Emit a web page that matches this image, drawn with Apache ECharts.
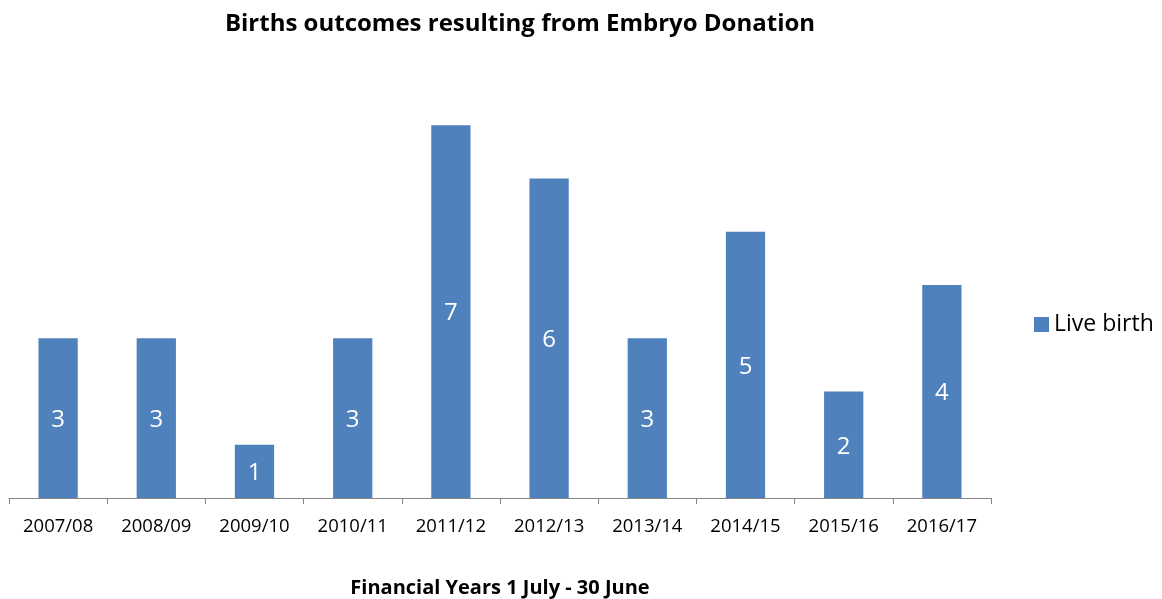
<!DOCTYPE html>
<html><head><meta charset="utf-8">
<script src="https://cdn.jsdelivr.net/npm/echarts@6/dist/echarts.min.js"></script>
<style>html,body{margin:0;padding:0;background:#fff}#c{width:1162px;height:599px}</style>
</head><body><div id="c"></div>
<script>
const categories = ['2007/08','2008/09','2009/10','2010/11','2011/12','2012/13','2013/14','2014/15','2015/16','2016/17'];
const liveBirth = [3,3,1,3,7,6,3,5,2,4];
const seriesName = 'Live birth';
const titleText = 'Births outcomes resulting from Embryo Donation';
const xAxisTitle = 'Financial Years 1 July - 30 June';
const FONT = 'Open Sans';
const chart = echarts.init(document.getElementById('c'));
chart.setOption({
  animation:false,
  textStyle:{fontFamily:FONT},
  title:{text:titleText,left:515,top:7,textAlign:'center',textStyle:{fontFamily:FONT,fontSize:24,fontWeight:'bold',color:'#000'}},
  legend:{left:1029,top:308,orient:'vertical',itemWidth:15,itemHeight:15,icon:'rect',itemGap:8,
    textStyle:{fontFamily:FONT,fontSize:23,color:'#000'},data:[seriesName]},
  grid:{left:9,right:171,top:72,bottom:101,containLabel:false,outerBoundsMode:'none'},
  xAxis:{type:'category',data:categories,
    axisLine:{lineStyle:{color:'#868686',width:1}},
    axisTick:{show:true,length:6,lineStyle:{color:'#868686'}},
    axisLabel:{fontFamily:FONT,fontSize:18.5,color:'#000',margin:19},
    name:xAxisTitle,nameLocation:'middle',nameGap:80,
    nameTextStyle:{fontFamily:FONT,fontSize:20,fontWeight:'bold',color:'#000'}},
  yAxis:{type:'value',min:0,max:8,interval:1,show:false},
  series:[{name:seriesName,type:'bar',data:liveBirth,barWidth:'40%',
    itemStyle:{color:'#4F81BD'},
    label:{show:true,position:'inside',color:'#fff',fontFamily:FONT,fontSize:24,offset:[0,2]}}]
});
</script></body></html>
